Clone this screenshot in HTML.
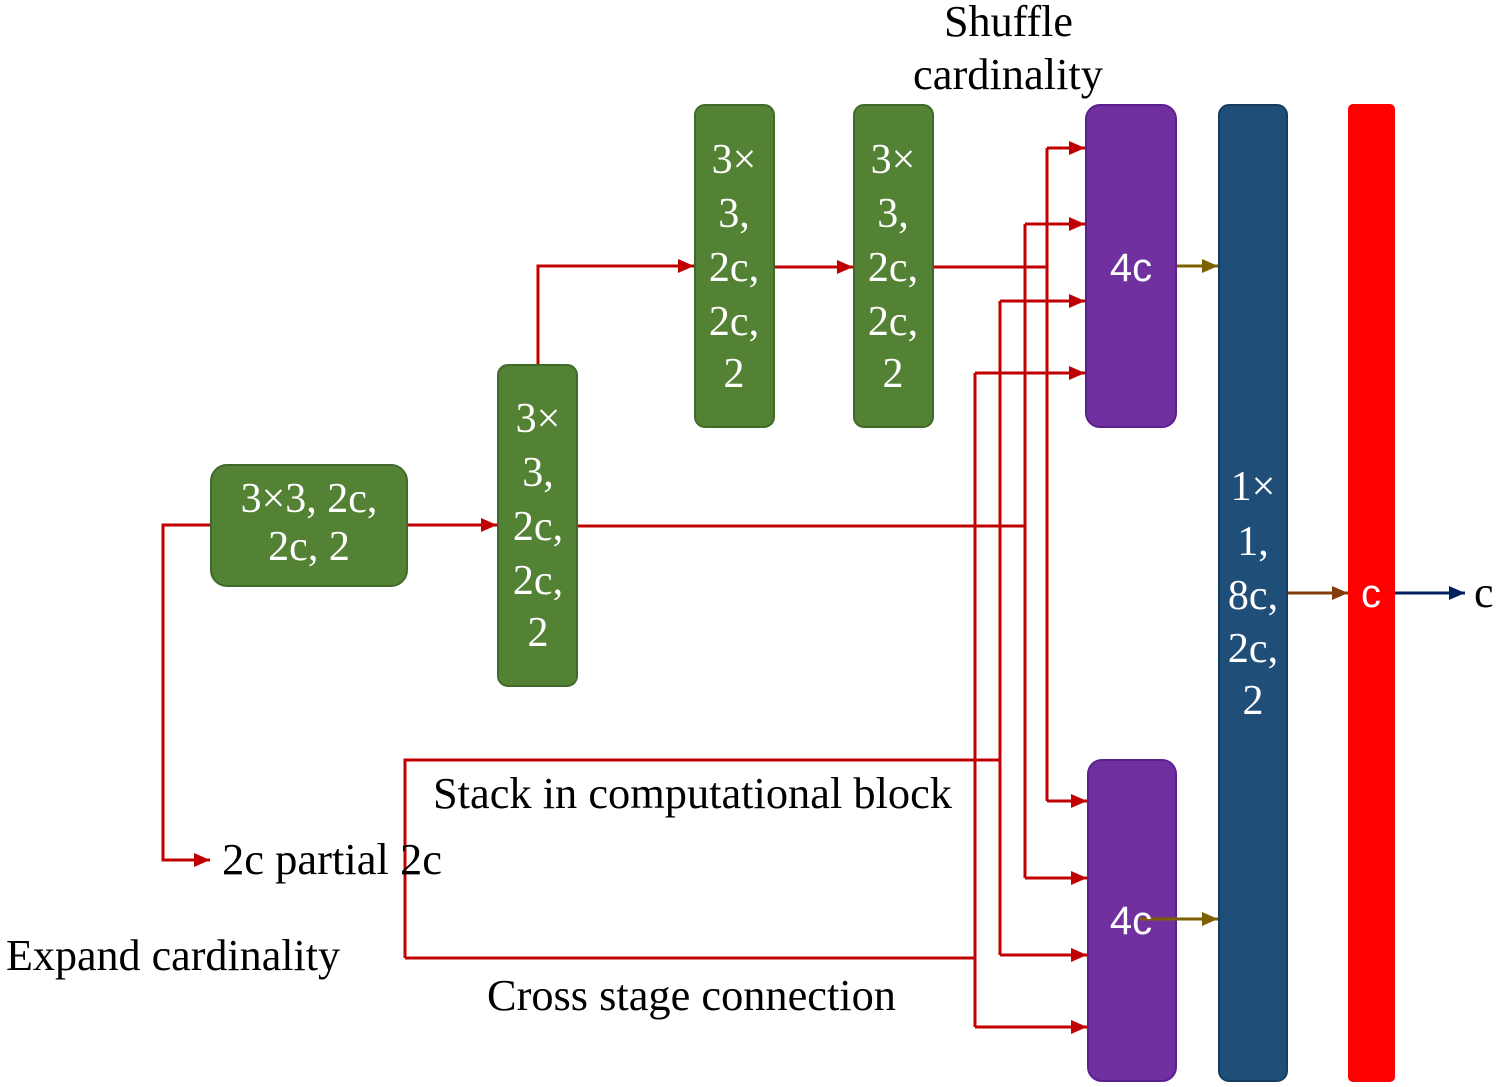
<!DOCTYPE html>
<html><head><meta charset="utf-8"><style>
body{margin:0;background:#fff;}
svg{display:block}
.t{font-family:"Liberation Serif",serif;font-size:44px;fill:#000}
.w{font-family:"Liberation Serif",serif;font-size:42px;fill:#fff;text-anchor:middle}
.s{font-family:"Liberation Sans",sans-serif;font-size:40px;fill:#fff;text-anchor:middle}
</style></head><body>
<svg width="1500" height="1087" viewBox="0 0 1500 1087" xmlns="http://www.w3.org/2000/svg">
<defs>
<marker id="ar" markerWidth="16" markerHeight="16" refX="16" refY="8" orient="auto" markerUnits="userSpaceOnUse"><path d="M0,1L16,8L0,15z" fill="#c00000"/></marker>
<marker id="ao" markerWidth="16" markerHeight="16" refX="16" refY="8" orient="auto" markerUnits="userSpaceOnUse"><path d="M0,1L16,8L0,15z" fill="#7f6000"/></marker>
<marker id="ab" markerWidth="16" markerHeight="16" refX="16" refY="8" orient="auto" markerUnits="userSpaceOnUse"><path d="M0,1L16,8L0,15z" fill="#843c0c"/></marker>
<marker id="an" markerWidth="16" markerHeight="16" refX="16" refY="8" orient="auto" markerUnits="userSpaceOnUse"><path d="M0,1L16,8L0,15z" fill="#002060"/></marker>
</defs>
<g fill="none" stroke="#c00000" stroke-width="3">
<path d="M210,525H163V860H210" marker-end="url(#ar)"/>
<path d="M408,525H497" marker-end="url(#ar)"/>
<path d="M538,364V266H694" marker-end="url(#ar)"/>
<path d="M774,267H853" marker-end="url(#ar)"/>
<path d="M934,267H1047"/>
<path d="M578,526H1025"/>
<path d="M405,958V760H1000"/>
<path d="M405,958H975"/>
<path d="M1047,148V801"/><path d="M1025,224V878"/><path d="M1000,301V955"/><path d="M975,373V1027"/>
<path d="M1047,148H1085" marker-end="url(#ar)"/>
<path d="M1025,224H1085" marker-end="url(#ar)"/>
<path d="M1000,301H1085" marker-end="url(#ar)"/>
<path d="M975,373H1085" marker-end="url(#ar)"/>
<path d="M1047,801H1087" marker-end="url(#ar)"/>
<path d="M1025,878H1087" marker-end="url(#ar)"/>
<path d="M1000,955H1087" marker-end="url(#ar)"/>
<path d="M975,1027H1087" marker-end="url(#ar)"/>
</g>
<g stroke="#41692a" stroke-width="2" fill="#548235">
<rect x="211" y="465" width="196" height="121" rx="16"/>
<rect x="498" y="365" width="79" height="321" rx="10"/>
<rect x="695" y="105" width="79" height="322" rx="10"/>
<rect x="854" y="105" width="79" height="322" rx="10"/>
</g>
<g fill="#7030a0" stroke="#5b2090" stroke-width="2">
<rect x="1086" y="105" width="90" height="322" rx="14"/>
<rect x="1088" y="760" width="88" height="321" rx="14"/>
</g>
<rect x="1219" y="105" width="68" height="976" rx="10" fill="#1f4e79" stroke="#173d60" stroke-width="2"/>
<rect x="1348" y="104" width="47" height="978" rx="5" fill="#ff0000"/>
<g stroke-width="3" fill="none">
<path d="M1177,266H1218" stroke="#7f6000" marker-end="url(#ao)"/>
<path d="M1140,919H1218" stroke="#7f6000" marker-end="url(#ao)"/>
<path d="M1288,593H1348" stroke="#843c0c" marker-end="url(#ab)"/>
<path d="M1395,593H1465" stroke="#002060" marker-end="url(#an)"/>
</g>
<text class="w" x="309" y="512">3×3, 2c,</text>
<text class="w" x="309" y="560">2c, 2</text>
<g class="w"><text x="538" y="432">3×</text><text x="538" y="486">3,</text><text x="538" y="540">2c,</text><text x="538" y="594">2c,</text><text x="538" y="646">2</text></g>
<g class="w"><text x="734" y="173">3×</text><text x="734" y="227">3,</text><text x="734" y="281">2c,</text><text x="734" y="335">2c,</text><text x="734" y="387">2</text></g>
<g class="w"><text x="893" y="173">3×</text><text x="893" y="227">3,</text><text x="893" y="281">2c,</text><text x="893" y="335">2c,</text><text x="893" y="387">2</text></g>
<g class="w"><text x="1253" y="500">1×</text><text x="1253" y="555">1,</text><text x="1253" y="609">8c,</text><text x="1253" y="662">2c,</text><text x="1253" y="714">2</text></g>
<text class="s" x="1131" y="281">4c</text>
<text class="s" x="1131" y="934">4c</text>
<text class="s" x="1371" y="607">c</text>
<text class="t" x="1474" y="607">c</text>
<text class="t" x="944" y="36" textLength="129" lengthAdjust="spacingAndGlyphs">Shuffle</text>
<text class="t" x="913" y="89" textLength="190" lengthAdjust="spacingAndGlyphs">cardinality</text>
<text class="t" x="433" y="808" textLength="519" lengthAdjust="spacingAndGlyphs">Stack in computational block</text>
<text class="t" x="222" y="874" textLength="220" lengthAdjust="spacingAndGlyphs">2c partial 2c</text>
<text class="t" x="6" y="970" textLength="334" lengthAdjust="spacingAndGlyphs">Expand cardinality</text>
<text class="t" x="487" y="1010" textLength="409" lengthAdjust="spacingAndGlyphs">Cross stage connection</text>
</svg>
</body></html>
